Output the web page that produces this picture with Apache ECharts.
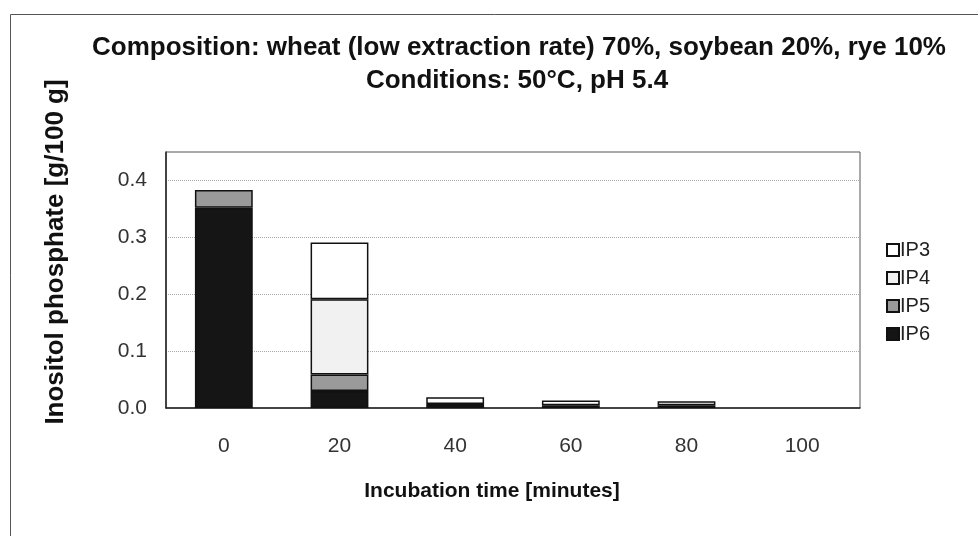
<!DOCTYPE html>
<html>
<head>
<meta charset="utf-8">
<script src="https://cdn.jsdelivr.net/npm/echarts@6/dist/echarts.min.js"></script>
<style>html,body{margin:0;padding:0;background:#fff}#c{width:978px;height:536px}</style>
</head>
<body>
<div id="c"></div>
<script>
const categories = ['0', '20', '40', '60', '80', '100'];
const ip6 = [0.352, 0.030, 0.007, 0.005, 0.005, 0];
const ip5 = [0.031, 0.029, 0, 0, 0, 0];
const ip4 = [0, 0.132, 0, 0, 0, 0];
const ip3 = [0, 0.100, 0.012, 0.008, 0.007, 0];
const yTicks = [0, 0.1, 0.2, 0.3, 0.4];

const titleLine1 = 'Composition: wheat (low extraction rate) 70%, soybean 20%, rye 10%';
const titleLine2 = 'Conditions: 50°C, pH 5.4';
const xTitle = 'Incubation time [minutes]';
const yTitle = 'Inositol phosphate [g/100 g]';

const FONT = 'Liberation Sans, Arial, sans-serif';
const chart = echarts.init(document.getElementById('c'));

function bar(name, data, color) {
  return {
    name: name, type: 'bar', stack: 'total',
    data: data.map(function (v) { return v === 0 ? '-' : v; }),
    barWidth: '50%',
    itemStyle: { color: color, borderColor: '#111', borderWidth: 1.5 },
    emphasis: { disabled: true }
  };
}

chart.setOption({
  animation: false,
  backgroundColor: '#fff',
  title: [
    { text: titleLine1, left: 514, top: 30, textAlign: 'center',
      textStyle: { fontFamily: FONT, fontSize: 26, fontWeight: 'bold', color: '#111' } },
    { text: titleLine2, left: 512, top: 63, textAlign: 'center',
      textStyle: { fontFamily: FONT, fontSize: 26, fontWeight: 'bold', color: '#111' } },
    { text: xTitle, left: 487, top: 476, textAlign: 'center',
      textStyle: { fontFamily: FONT, fontSize: 21, fontWeight: 'bold', color: '#111' } }
  ],
  graphic: [
    { type: 'rect', left: 8, top: 12, shape: { width: 1100, height: 700 },
      style: { fill: 'none', stroke: '#555', lineWidth: 1 }, silent: true, z: -1 },
    { type: 'text', x: 56, y: 252, rotation: Math.PI / 2,
      style: { text: yTitle, fontFamily: FONT, fontSize: 26, fontWeight: 'bold', fill: '#111',
               align: 'center', verticalAlign: 'middle' } }
  ],
  legend: {
    orient: 'vertical', left: 881, top: 235,
    data: ['IP3', 'IP4', 'IP5', 'IP6'],
    icon: 'rect',
    itemWidth: 12, itemHeight: 12, itemGap: 8,
    textStyle: { fontFamily: FONT, fontSize: 20, color: '#222', padding: [0, 0, 0, -4] }
  },
  grid: { left: 166, right: 118, top: 152, bottom: 128, show: true,
          borderColor: '#555', borderWidth: 1, backgroundColor: 'transparent' },
  xAxis: {
    type: 'category', data: categories,
    axisLine: { lineStyle: { color: '#222', width: 1.5 } },
    axisTick: { show: false },
    axisLabel: { fontFamily: FONT, fontSize: 21, color: '#333', margin: 28 }
  },
  yAxis: {
    type: 'value', min: 0, max: 0.45, interval: 0.1,
    axisLine: { show: true, lineStyle: { color: '#222', width: 1.5 } },
    axisTick: { show: false },
    splitLine: { show: true, lineStyle: { color: '#aaa', type: 'dotted', width: 1 } },
    axisLabel: { fontFamily: FONT, fontSize: 21, color: '#333', margin: 19,
      formatter: function (v) {
        for (const t of yTicks) { if (Math.abs(t - v) < 1e-9) return t.toFixed(1); }
        return '';
      } }
  },
  series: [
    bar('IP6', ip6, '#151515'),
    bar('IP5', ip5, '#9a9a9a'),
    bar('IP4', ip4, '#f1f1f1'),
    bar('IP3', ip3, '#ffffff')
  ]
});
</script>
</body>
</html>
